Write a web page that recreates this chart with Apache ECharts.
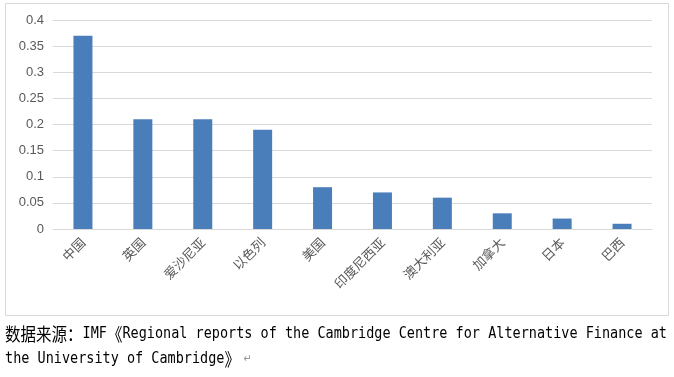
<!DOCTYPE html>
<html>
<head>
<meta charset="utf-8">
<script src="https://cdn.jsdelivr.net/npm/echarts@6/dist/echarts.min.js"></script>
<style>
html, body { margin: 0; padding: 0; background: #fff; }
#main { width: 674px; height: 377px; }
</style>
</head>
<body>
<div id="main"></div>
<script>
var countries = ['中国', '英国', '爱沙尼亚', '以色列', '美国', '印度尼西亚', '澳大利亚', '加拿大', '日本', '巴西'];
var values = [0.37, 0.21, 0.21, 0.19, 0.08, 0.07, 0.06, 0.03, 0.02, 0.01];
var yTicks = [0, 0.05, 0.1, 0.15, 0.2, 0.25, 0.3, 0.35, 0.4];

var chart = echarts.init(document.getElementById('main'));

var richStyles = {
	cn: { fontSize: 15.5, fontFamily: 'Noto Sans CJK SC', fill: '#000' },
	en: { fontSize: 13.5, fontFamily: 'DejaVu Sans Mono', fill: '#000' },
	mark: { fontSize: 10, fontFamily: 'DejaVu Sans', fill: '#999' }
};

var option = {
	animation: false,
	grid: {
		left: 53,
		top: 20,
		width: 599,
		height: 209
	},
	xAxis: {
		type: 'category',
		data: countries,
		axisLine: { lineStyle: { color: '#d9d9d9' } },
		axisTick: { show: false },
		axisLabel: {
			interval: 0,
			rotate: 45,
			color: '#595959',
			fontSize: 13,
			fontFamily: 'Noto Sans CJK SC',
			margin: 11
		}
	},
	yAxis: {
		type: 'value',
		min: 0,
		max: 0.4,
		interval: 0.05,
		axisLine: { show: false },
		axisTick: { show: false },
		splitLine: { lineStyle: { color: '#d9d9d9' } },
		axisLabel: {
			color: '#595959',
			fontSize: 13,
			fontFamily: 'Liberation Sans',
			margin: 9,
			formatter: function (v) {
				var r = Math.round(v * 100) / 100;
				return yTicks.indexOf(r) >= 0 ? String(r) : '';
			}
		}
	},
	series: [{
		type: 'bar',
		data: values,
		barWidth: 19,
		itemStyle: { color: '#4a7ebb' }
	}],
	graphic: [{
		type: 'rect',
		shape: { x: 5.5, y: 3.5, width: 663, height: 312 },
		style: { fill: 'none', stroke: '#d9d9d9', lineWidth: 1 },
		z: -1
	}, {
		type: 'text',
		x: 5,
		y: 325,
		scaleY: 1.15,
		style: {
			text: '{cn|数据来源：}{en|IMF}{cn|《}{en|Regional reports of the Cambridge Centre for Alternative Finance at}',
			verticalAlign: 'top',
			rich: richStyles
		}
	}, {
		type: 'text',
		x: 5,
		y: 350,
		scaleY: 1.15,
		style: {
			text: '{en|the University of Cambridge}{cn|》}{mark| ↵}',
			verticalAlign: 'top',
			rich: richStyles
		}
	}]
};
chart.setOption(option);
</script>
</body>
</html>
